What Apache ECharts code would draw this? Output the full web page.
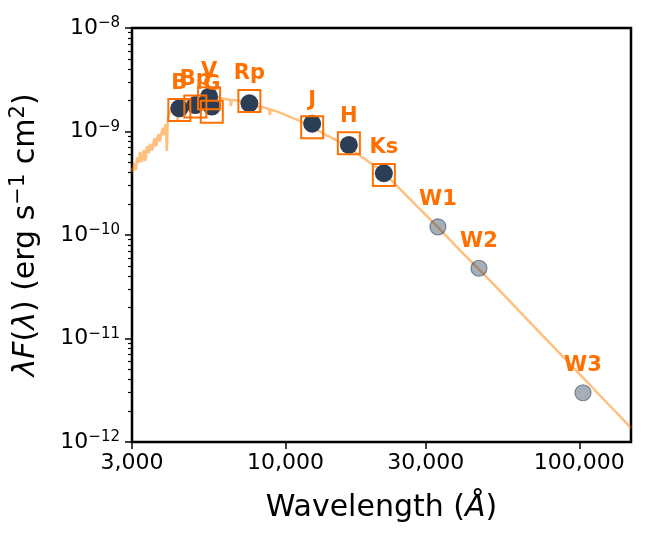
<!DOCTYPE html>
<html>
<head>
    <meta charset="utf-8">
    <title>SED</title>
    <script src="https://cdn.jsdelivr.net/npm/echarts@6/dist/echarts.min.js"></script>
    <style>
        html, body { margin: 0; padding: 0; background: #fff; }
        #main { width: 664px; height: 554px; }
    </style>
</head>
<body>
<div id="main"></div>
<script>
    // photometry points (observed) and model photometry (squares)
    var bands = ['B', 'Bp', 'V', 'G', 'Rp', 'J', 'H', 'Ks'];
    var bandWave = [4348, 4929, 5489, 5608, 7530, 12318, 16423, 21610];
    var bandFlux = [1.675e-9, 1.80e-9, 2.17e-9, 1.74e-9, 1.87e-9, 1.19e-9, 7.41e-10, 3.95e-10];
    var modelFlux = [1.61e-9, 1.74e-9, 2.10e-9, 1.55e-9, 1.97e-9, 1.10e-9, 7.69e-10, 3.80e-10];

    // WISE points
    var wiseBands = ['W1', 'W2', 'W3'];
    var wiseWave = [33010, 45540, 102960];
    var wiseFlux = [1.20e-10, 4.77e-11, 2.99e-12];

    // model spectrum
    var specWave = [3000, 3025, 3047, 3070, 3095, 3120, 3143, 3168, 3193, 3218, 3243, 3268, 3294, 3320, 3346, 3372,
        3398, 3425, 3452, 3479, 3506, 3533, 3561, 3589, 3617, 3645, 3674, 3703, 3732, 3761, 3790, 3820, 3850, 3880,
        3911, 3941, 3972, 4034, 4098, 4195, 4260, 4294, 4330, 4395, 4527, 4704, 4885, 5075, 5273, 5477,
        5690, 5986, 6220, 6480, 6520, 6560, 6735, 6997, 7550, 8142, 8190, 8240, 8780, 8840, 8900, 9470, 10210, 11010,
        12030, 13540, 15950, 18000, 21500, 24540, 28690, 33000, 39180, 45500, 53600, 67800, 85800, 104500, 127000, 150000];
    var specFlux = [4.44e-10, 4.10e-10, 4.96e-10, 4.55e-10, 4.25e-10, 5.60e-10, 5.31e-10, 5.00e-10, 6.34e-10, 5.70e-10,
        5.07e-10, 6.10e-10, 6.62e-10, 5.20e-10, 5.55e-10, 7.24e-10, 6.70e-10, 6.19e-10, 7.60e-10, 7.92e-10, 6.60e-10,
        6.93e-10, 8.20e-10, 8.65e-10, 7.20e-10, 7.57e-10, 9.00e-10, 9.46e-10, 8.00e-10, 8.28e-10, 1.00e-9, 1.08e-9,
        9.25e-10, 1.10e-9, 1.18e-9, 6.48e-10, 1.35e-9,
        1.54e-9, 1.69e-9, 1.76e-9, 1.80e-9, 1.29e-9, 1.82e-9, 1.84e-9, 1.93e-9, 2.02e-9, 2.06e-9, 2.11e-9, 2.16e-9,
        2.20e-9, 2.20e-9, 2.11e-9, 2.06e-9, 2.02e-9, 1.76e-9, 2.02e-9, 2.01e-9, 1.97e-9, 1.88e-9, 1.76e-9, 1.54e-9,
        1.74e-9, 1.65e-9, 1.44e-9, 1.63e-9, 1.54e-9, 1.41e-9, 1.29e-9, 1.16e-9, 9.46e-10, 7.41e-10, 5.80e-10, 4.06e-10,
        2.78e-10, 1.78e-10, 1.19e-10, 7.16e-11, 4.69e-11, 2.90e-11, 1.44e-11, 7.18e-12, 4.01e-12, 2.24e-12, 1.37e-12];

    // axis ticks
    var xTicks = [3000, 10000, 30000, 100000];
    var yTicks = [1e-12, 1e-11, 1e-10, 1e-9, 1e-8];
    var yMinor = [];
    for (var d = -12; d < -8; d++) {
        for (var m = 2; m <= 9; m++) {
            yMinor.push(m * Math.pow(10, d));
        }
    }

    var orange = '#ff7000';
    var navy = '#2c3e55';
    var font = 'DejaVu Sans';

    var spec = [], obs = [], model = [], wise = [];
    for (var i = 0; i < specWave.length; i++) spec.push([specWave[i], specFlux[i]]);
    for (var i = 0; i < bands.length; i++) {
        obs.push({name: bands[i], value: [bandWave[i], bandFlux[i]]});
        model.push({name: bands[i], value: [bandWave[i], modelFlux[i]]});
    }
    for (var i = 0; i < wiseBands.length; i++) {
        wise.push({name: wiseBands[i], value: [wiseWave[i], wiseFlux[i]]});
    }

    var bandLabel = {
        show: true, position: 'inside', offset: [0, -27], formatter: '{b}',
        color: orange, fontSize: 21, fontWeight: 'bold', fontFamily: font
    };

    var myChart = echarts.init(document.getElementById('main'));
    var option = {
        animation: false,
        grid: {left: 132, top: 28, width: 499, height: 414, show: true, borderColor: '#000', borderWidth: 2.5},
        xAxis: {
            type: 'log', logBase: 10, min: 3000, max: 150000,
            axisLine: {show: false},
            axisTick: {show: true, inside: false, length: 7, customValues: xTicks, lineStyle: {color: '#000', width: 1.5}},
            minorTick: {show: false},
            splitLine: {show: false},
            axisLabel: {
                customValues: xTicks, margin: 10, color: '#000', fontSize: 22, fontFamily: font,
                formatter: function (v) {
                    return String(Math.round(v)).replace(/\B(?=(\d{3})+(?!\d))/g, ',');
                }
            },
            name: '{n|Wavelength (}{i|Å}{n|)}',
            nameLocation: 'middle', nameGap: 51,
            nameTextStyle: {
                color: '#000', fontFamily: font, fontSize: 30,
                rich: {
                    n: {fontSize: 30, fontFamily: font, color: '#000'},
                    i: {fontSize: 30, fontFamily: font, fontStyle: 'italic', color: '#000'}
                }
            }
        },
        yAxis: [{
            type: 'log', logBase: 10, min: 1e-12, max: 1e-8,
            axisLine: {show: false},
            axisTick: {show: true, inside: false, length: 7, customValues: yTicks, lineStyle: {color: '#000', width: 1.5}},
            splitLine: {show: false},
            axisLabel: {
                customValues: yTicks, margin: 12, color: '#000',
                formatter: function (v) {
                    var e = Math.round(Math.log(v) / Math.LN10);
                    return '{b|10}{s|\u2212' + (-e) + '}';
                },
                rich: {
                    b: {fontSize: 22, fontFamily: font, color: '#000', lineHeight: 24},
                    s: {fontSize: 15, fontFamily: font, color: '#000', lineHeight: 19, verticalAlign: 'top'}
                }
            },
            name: '{i|λF}{n|(}{i|λ}{n|) (erg s}{s|\u22121}{n| cm}{s|2}{n|)}',
            nameLocation: 'middle', nameGap: 88, nameRotate: 90,
            nameTextStyle: {
                color: '#000', fontFamily: font, fontSize: 30,
                rich: {
                    n: {fontSize: 30, fontFamily: font, color: '#000', lineHeight: 36},
                    i: {fontSize: 30, fontFamily: font, fontStyle: 'italic', color: '#000', lineHeight: 36},
                    s: {fontSize: 21, fontFamily: font, color: '#000', lineHeight: 20, verticalAlign: 'top'}
                }
            }
        }, {
            // minor ticks only
            type: 'log', logBase: 10, min: 1e-12, max: 1e-8, position: 'left',
            axisLine: {show: false},
            axisTick: {show: true, inside: false, length: 4, customValues: yMinor, lineStyle: {color: '#000', width: 1.2}},
            axisLabel: {show: false},
            splitLine: {show: false}
        }],
        series: [{
            type: 'line', data: spec, symbol: 'none', z: 1, clip: true,
            lineStyle: {color: 'rgba(255,128,0,0.5)', width: 2.5}
        }, {
            type: 'scatter', data: obs, symbol: 'circle', symbolSize: 18, z: 2,
            itemStyle: {color: navy, opacity: 1}
        }, {
            type: 'scatter', data: wise, symbol: 'circle', symbolSize: 16, z: 2,
            itemStyle: {color: 'rgba(44,62,85,0.42)', borderColor: 'rgba(44,62,85,0.55)', borderWidth: 1.2, opacity: 1},
            label: bandLabel
        }, {
            type: 'scatter', data: model, symbol: 'rect', symbolSize: 22, z: 3,
            itemStyle: {color: 'rgba(0,0,0,0)', borderColor: orange, borderWidth: 2, opacity: 1},
            label: bandLabel
        }]
    };
    myChart.setOption(option);
</script>
</body>
</html>
